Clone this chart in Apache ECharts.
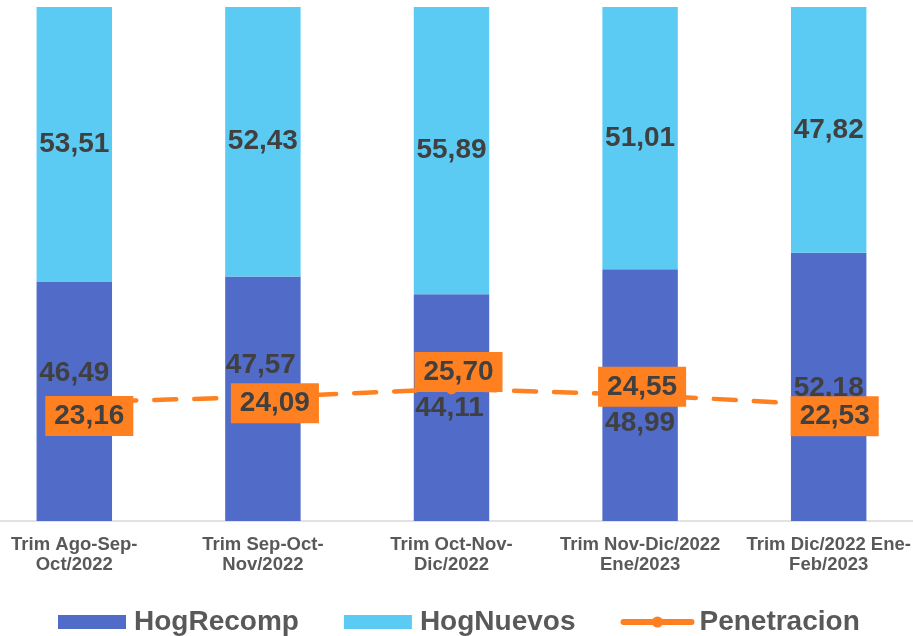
<!DOCTYPE html>
<html>
<head>
<meta charset="utf-8">
<script src="https://cdn.jsdelivr.net/npm/echarts@6/dist/echarts.min.js"></script>
<style>
html,body{margin:0;padding:0;background:#fff;overflow:hidden;width:913px;height:636px;position:relative;}
#c{position:absolute;left:-20px;top:0;width:943px;height:636px;}
</style>
</head>
<body>
<div id="c"></div>
<script>
var categories = ['Trim Ago-Sep-\nOct/2022', 'Trim Sep-Oct-\nNov/2022', 'Trim Oct-Nov-\nDic/2022', 'Trim Nov-Dic/2022\nEne/2023', 'Trim Dic/2022 Ene-\nFeb/2023'];
var hogRecomp = [46.49, 47.57, 44.11, 48.99, 52.18];
var hogNuevos = [53.51, 52.43, 55.89, 51.01, 47.82];
var penetracion = [23.16, 24.09, 25.70, 24.55, 22.53];

// label placement (manual offsets as in the original)
var recompLabelOffsets = [[0, -28], [-2, -33], [-2, 1], [0, 28], [0, 1]];
var penLabelOffsets = [[15, 14], [12, 6], [7, -17], [2, -8], [6, 11]];

var FONT = 'Liberation Sans, Arial, sans-serif';
var fmt = function (v) { return v.toFixed(2).replace('.', ','); };

var chart = echarts.init(document.getElementById('c'), null, {renderer: 'canvas'});

var recompData = hogRecomp.map(function (v, i) {
  return {value: v, label: {offset: recompLabelOffsets[i]}};
});
var penData = penetracion.map(function (v, i) {
  return {value: v, label: {offset: penLabelOffsets[i]}};
});

var labelBase = {
  show: true,
  fontFamily: FONT,
  fontWeight: 'bold',
  fontSize: 28,
  color: '#404040',
  formatter: function (p) { return fmt(p.value); }
};

chart.setOption({
  animation: false,
  backgroundColor: '#ffffff',
  textStyle: {fontFamily: FONT},
  grid: {left: 0, right: 0, top: 7, bottom: 115, containLabel: false},
  xAxis: {
    type: 'category',
    data: categories,
    axisLine: {show: true, lineStyle: {color: '#D9D9D9', width: 1.5}},
    axisTick: {show: false},
    axisLabel: {
      interval: 0,
      margin: 14,
      fontFamily: FONT,
      fontWeight: 'bold',
      fontSize: 18.5,
      lineHeight: 20,
      color: '#595959'
    }
  },
  yAxis: {
    type: 'value',
    min: 0,
    max: 100,
    show: false,
    splitLine: {show: false}
  },
  legend: {
    top: 603,
    left: 73,
    itemWidth: 68,
    itemHeight: 14,
    itemGap: 45,
    textStyle: {fontFamily: FONT, fontWeight: 'bold', fontSize: 28, color: '#595959', padding: [0, 0, 0, 3]},
    data: [
      {name: 'HogRecomp', icon: 'rect'},
      {name: 'HogNuevos', icon: 'rect'},
      {name: 'Penetracion', lineStyle: {width: 6, type: 'solid', cap: 'round'}, itemStyle: {color: '#FF8021'}}
    ]
  },
  series: [
    {
      name: 'HogRecomp',
      type: 'bar',
      stack: 'total',
      barWidth: '40%',
      itemStyle: {color: '#516BC8'},
      label: Object.assign({}, labelBase, {position: 'inside'}),
      data: recompData
    },
    {
      name: 'HogNuevos',
      type: 'bar',
      stack: 'total',
      barWidth: '40%',
      itemStyle: {color: '#5BCBF3'},
      label: Object.assign({}, labelBase, {position: 'inside'}),
      data: hogNuevos
    },
    {
      name: 'Penetracion',
      type: 'line',
      z: 5,
      symbol: 'circle',
      symbolSize: 11,
      itemStyle: {color: '#FF8021'},
      lineStyle: {color: '#FF8021', width: 4.5, type: [22, 18], cap: 'round'},
      label: Object.assign({}, labelBase, {
        position: 'inside',
        backgroundColor: '#FF8021',
        padding: [7, 9, 5, 9]
      }),
      data: penData
    }
  ]
});
</script>
</body>
</html>
